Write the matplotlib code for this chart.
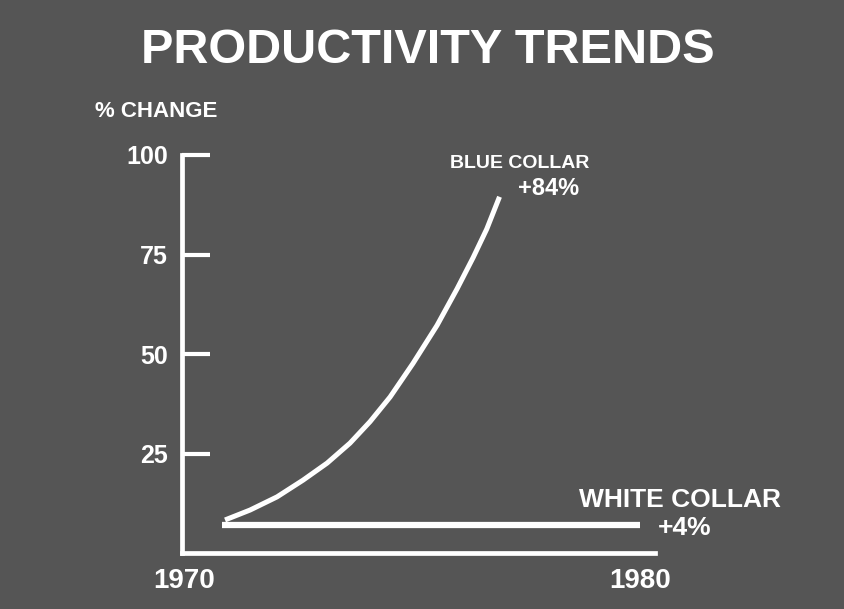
import matplotlib
matplotlib.use('Agg')
import matplotlib.pyplot as plt

plt.rcParams['font.family'] = ['Liberation Sans', 'DejaVu Sans']
plt.rcParams['font.weight'] = 'bold'

BG = '#555555'
FG = 'white'

# data (% change, 1970-1980)
year_ticks = [1970, 1980]
pct_ticks = [25, 50, 75, 100]

blue_year = [1970.90, 1971.45, 1972.04, 1972.61, 1973.14, 1973.64, 1974.08,
             1974.52, 1975.02, 1975.55, 1975.99, 1976.34, 1976.64, 1976.92]
blue_pct = [8.3, 10.8, 14.1, 18.3, 22.6, 27.6, 33.0,
            39.2, 47.6, 57.2, 66.4, 74.2, 81.4, 89.5]

white_year = [1970.83, 1980.0]
white_pct = [7, 7]

W, H = 845, 609
fig = plt.figure(figsize=(W / 100, H / 100), dpi=100, facecolor=BG)

ax = fig.add_axes([182 / W, 1 - 553 / H, 473 / W, 398 / H])
ax.set_facecolor('none')

ax.plot(blue_year, blue_pct, color=FG, lw=3.6, solid_capstyle='butt',
        solid_joinstyle='round')
ax.plot(white_year, white_pct, color=FG, lw=4.5, solid_capstyle='butt')

ax.set_xlim(1969.956, 1980.33)
ax.set_ylim(0, 100)
for side in ['top', 'right']:
    ax.spines[side].set_visible(False)
for side in ['left', 'bottom']:
    ax.spines[side].set_color(FG)
    ax.spines[side].set_linewidth(3.4)
    ax.spines[side].set_capstyle('projecting')

ax.set_yticks(pct_ticks)
ax.set_yticklabels([str(v) for v in pct_ticks])
ax.tick_params(axis='y', direction='in', length=20, width=3, colors=FG,
               labelsize=18, pad=10)
ax.set_xticks(year_ticks)
ax.set_xticklabels([str(v) for v in year_ticks])
ax.tick_params(axis='x', length=0, colors=FG, labelsize=20, pad=11)

# slide texts
fig.text(428 / W, 1 - 63 / H, 'PRODUCTIVITY TRENDS', color=FG, fontsize=35,
         fontweight='bold', ha='center', va='baseline')
fig.text(95 / W, 1 - 117 / H, '% CHANGE', color=FG, fontsize=16,
         fontweight='bold', ha='left', va='baseline')
fig.text(520 / W, 1 - 168 / H, 'BLUE COLLAR', color=FG, fontsize=14,
         fontweight='bold', ha='center', va='baseline')
fig.text(549 / W, 1 - 195 / H, '+84%', color=FG, fontsize=17,
         fontweight='bold', ha='center', va='baseline')
fig.text(680 / W, 1 - 507 / H, 'WHITE COLLAR', color=FG, fontsize=19,
         fontweight='bold', ha='center', va='baseline')
fig.text(685 / W, 1 - 535 / H, '+4%', color=FG, fontsize=19,
         fontweight='bold', ha='center', va='baseline')

fig.savefig('out.png', dpi=100, facecolor=BG)
print("Saved: out.png")
